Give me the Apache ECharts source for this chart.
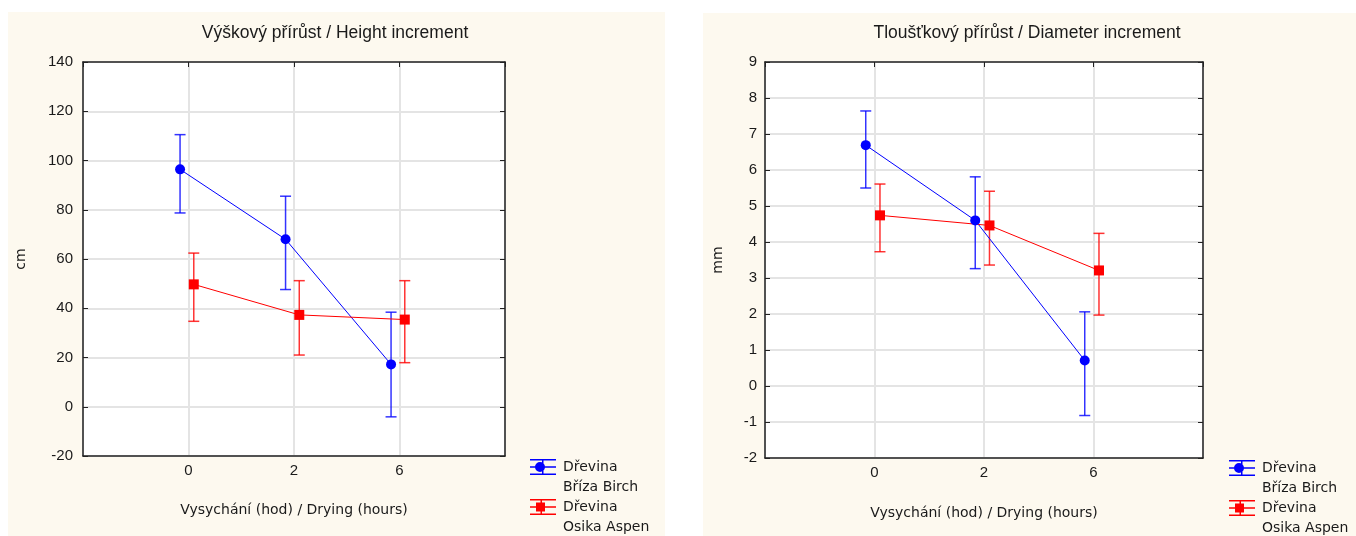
<!DOCTYPE html>
<html>
<head>
<meta charset="utf-8">
<script src="https://cdn.jsdelivr.net/npm/echarts@6/dist/echarts.min.js"></script>
<style>
html,body{margin:0;padding:0;background:#fff;}
#chart{width:1356px;height:536px;}
</style>
</head>
<body>
<div id="chart"></div>
<script>
// ---- data ----
const categories = ['0', '2', '6'];
const seriesNames = ['Dřevina\nBříza Birch', 'Dřevina\nOsika Aspen'];
const titles = ['Výškový přírůst / Height increment', 'Tloušťkový přírůst / Diameter increment'];
const xAxisName = 'Vysychání (hod) / Drying (hours)';
const yAxisNames = ['cm', 'mm'];

const heightBirch = [96.4, 68.0, 17.2];
const heightBirchLow = [78.7, 47.6, -4.1];
const heightBirchHigh = [110.5, 85.5, 38.4];
const heightAspen = [49.7, 37.3, 35.4];
const heightAspenLow = [34.7, 21.0, 17.9];
const heightAspenHigh = [62.4, 51.2, 51.2];

const diamBirch = [6.69, 4.60, 0.71];
const diamBirchLow = [5.50, 3.26, -0.82];
const diamBirchHigh = [7.64, 5.81, 2.06];
const diamAspen = [4.74, 4.46, 3.21];
const diamAspenLow = [3.73, 3.36, 1.97];
const diamAspenHigh = [5.61, 5.41, 4.24];

const yTicksHeight = {min: -20, max: 140, interval: 20};
const yTicksDiam = {min: -2, max: 9, interval: 1};

// ---- style / layout ----
const BLUE = '#0000ff', RED = '#ff0000';
const DODGE = [-0.08, 0.05];
const FONT = 'Liberation Sans, Arial, sans-serif';
const FONT2 = 'DejaVu Sans, sans-serif';
const TXT = '#1a1a1a';
const ICON_BIRCH = 'path://M0,0H26V1.5H0Z M0,7.25H26V8.75H0Z M0,14.5H26V16H0Z M12,0H13.5V16H12Z M5,8a5,5 0 1,1 10,0a5,5 0 1,1 -10,0Z';
const ICON_ASPEN = 'path://M0,0H26V1.5H0Z M0,7.25H26V8.75H0Z M0,14.5H26V16H0Z M10.5,0H12V16H10.5Z M6,3.5H15V12.5H6Z';

const grids = [
  {left: 83, top: 62, width: 422, height: 394},
  {left: 765, top: 62, width: 438, height: 396}
];

function pts(vals, dodge) { return vals.map((v, i) => [i + 1 + dodge, v]); }
function errs(lo, hi, dodge) { return lo.map((l, i) => [i + 1 + dodge, l, hi[i]]); }

function errRender(params, api) {
  const x = api.value(0), lo = api.value(1), hi = api.value(2);
  const p1 = api.coord([x, hi]), p2 = api.coord([x, lo]);
  const hw = 5.5;
  const style = {stroke: api.visual('color'), lineWidth: 1.5, opacity: 0.8};
  return {type: 'group', children: [
    {type: 'line', shape: {x1: p1[0], y1: p1[1], x2: p2[0], y2: p2[1]}, style: style},
    {type: 'line', shape: {x1: p1[0] - hw, y1: p1[1], x2: p1[0] + hw, y2: p1[1]}, style: style},
    {type: 'line', shape: {x1: p2[0] - hw, y1: p2[1], x2: p2[0] + hw, y2: p2[1]}, style: style}
  ]};
}

const axisLine = {show: true, onZero: false, lineStyle: {color: '#222', width: 1.5}};
const splitLine = {show: true, lineStyle: {color: '#e4e4e4', width: 2}};

const xAxes = [], yAxes = [];
[0, 1].forEach(g => {
  xAxes.push({
    type: 'value', gridIndex: g, min: 0, max: 4, interval: 1, position: 'bottom',
    axisLine: axisLine, axisTick: {show: false}, splitLine: splitLine,
    axisLabel: {margin: 7, fontSize: 15, fontFamily: FONT, color: TXT,
      formatter: v => (v >= 1 && v <= categories.length) ? categories[v - 1] : ''},
    name: xAxisName, nameLocation: 'middle', nameGap: g === 0 ? 47 : 48,
    nameTextStyle: {fontSize: 14, fontFamily: FONT2, color: TXT}
  });
  xAxes.push({
    type: 'value', gridIndex: g, min: 0, max: 4, interval: 1, position: 'top',
    axisLine: axisLine, axisTick: {show: true, inside: true, length: 5, lineStyle: {color: '#222'}},
    splitLine: {show: false}, axisLabel: {show: false}
  });
  const yt = g === 0 ? yTicksHeight : yTicksDiam;
  yAxes.push({
    type: 'value', gridIndex: g, min: yt.min, max: yt.max, interval: yt.interval, position: 'left',
    axisLine: axisLine, axisTick: {show: true, inside: true, length: 5, lineStyle: {color: '#222'}},
    splitLine: splitLine,
    axisLabel: {margin: g === 0 ? 10 : 8, fontSize: 15, fontFamily: FONT, color: TXT},
    name: yAxisNames[g], nameLocation: 'middle', nameGap: g === 0 ? 55 : 40, nameRotate: 90,
    nameTextStyle: {fontSize: 14, fontFamily: FONT2, color: TXT}
  });
  yAxes.push({
    type: 'value', gridIndex: g, min: yt.min, max: yt.max, interval: yt.interval, position: 'right',
    axisLine: axisLine, axisTick: {show: true, inside: true, length: 5, lineStyle: {color: '#222'}},
    splitLine: {show: false}, axisLabel: {show: false}
  });
});

function lineSeries(name, g, vals, dodge, color, symbol) {
  return {
    type: 'line', name: name, xAxisIndex: g * 2, yAxisIndex: g * 2,
    data: pts(vals, dodge), symbol: symbol, symbolSize: 10, z: 5,
    lineStyle: {color: color, width: 1}, itemStyle: {color: color},
    emphasis: {disabled: true}, animation: false
  };
}
function errSeries(name, g, lo, hi, dodge, color) {
  return {
    type: 'custom', name: name, xAxisIndex: g * 2, yAxisIndex: g * 2,
    data: errs(lo, hi, dodge), encode: {x: 0, y: [1, 2]}, renderItem: errRender,
    itemStyle: {color: color}, z: 3, animation: false
  };
}

function legendItem(idx, icon, left, top) {
  return {
    left: left, top: top, padding: 0, orient: 'vertical', itemWidth: 26, itemHeight: 16, selectedMode: false,
    data: [{name: seriesNames[idx], icon: icon}],
    formatter: n => '\n' + n,
    textStyle: {fontSize: 14, fontFamily: FONT2, color: TXT, lineHeight: 20, padding: [0, 0, 0, 2]}
  };
}

const option = {
  backgroundColor: '#ffffff',
  animation: false,
  graphic: [
    {type: 'rect', shape: {x: 8, y: 12, width: 657, height: 524}, style: {fill: '#fdf9ef'}, z: -10},
    {type: 'rect', shape: {x: 703, y: 13, width: 653, height: 523}, style: {fill: '#fdf9ef'}, z: -10}
  ],
  title: [
    {text: titles[0], left: 335, top: 24, padding: 0, textAlign: 'center',
      textStyle: {fontSize: 17.5, fontWeight: 'normal', fontFamily: FONT, color: TXT}},
    {text: titles[1], left: 1027, top: 24, padding: 0, textAlign: 'center',
      textStyle: {fontSize: 17.5, fontWeight: 'normal', fontFamily: FONT, color: TXT}}
  ],
  legend: [
    legendItem(0, ICON_BIRCH, 530, 437),
    legendItem(1, ICON_ASPEN, 530, 477),
    legendItem(0, ICON_BIRCH, 1229, 438),
    legendItem(1, ICON_ASPEN, 1229, 478)
  ],
  grid: grids.map(g => Object.assign({show: true, backgroundColor: '#ffffff', borderWidth: 0, containLabel: false}, g)),
  xAxis: xAxes,
  yAxis: yAxes,
  series: [
    lineSeries(seriesNames[0], 0, heightBirch, DODGE[0], BLUE, 'circle'),
    lineSeries(seriesNames[1], 0, heightAspen, DODGE[1], RED, 'rect'),
    errSeries(seriesNames[0], 0, heightBirchLow, heightBirchHigh, DODGE[0], BLUE),
    errSeries(seriesNames[1], 0, heightAspenLow, heightAspenHigh, DODGE[1], RED),
    lineSeries(seriesNames[0], 1, diamBirch, DODGE[0], BLUE, 'circle'),
    lineSeries(seriesNames[1], 1, diamAspen, DODGE[1], RED, 'rect'),
    errSeries(seriesNames[0], 1, diamBirchLow, diamBirchHigh, DODGE[0], BLUE),
    errSeries(seriesNames[1], 1, diamAspenLow, diamAspenHigh, DODGE[1], RED)
  ]
};

const chart = echarts.init(document.getElementById('chart'), null, {renderer: 'canvas'});
chart.setOption(option);
</script>
</body>
</html>
